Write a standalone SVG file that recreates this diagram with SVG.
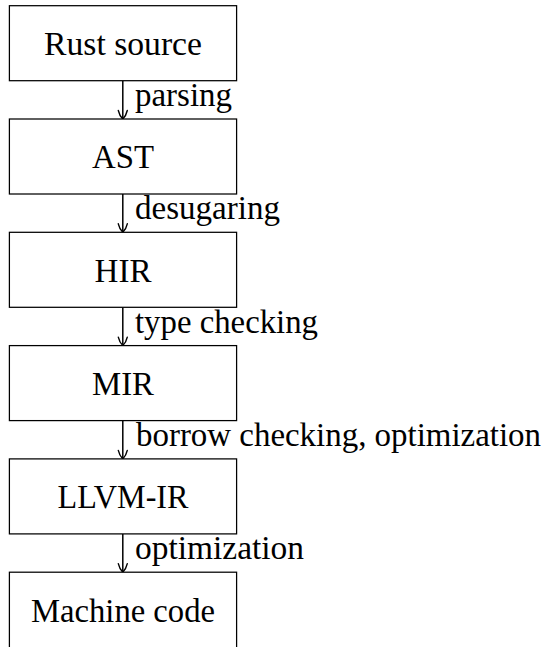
<svg xmlns="http://www.w3.org/2000/svg" width="548" height="647" viewBox="0 0 548 647">
<style>
.box{fill:#fff;stroke:#000;stroke-width:1.25}
.t{font-family:"Liberation Serif","Times New Roman",serif;font-size:33px;fill:#000}
.c{text-anchor:middle}
.e{stroke:#000;stroke-width:1.5;fill:none}
.h{stroke:#000;stroke-width:1.4;fill:none;stroke-linecap:round}
</style>
<rect width="548" height="647" fill="#fff"/>
<g id="connectors">
<g><line class="e" x1="122.8" y1="80.7" x2="122.8" y2="118"/><path class="h" d="M118.3,110.5 C119.3,115 121.8,118 122.8,119 C123.8,118 126.3,115 127.3,110.5"/><text class="t" x="135" y="106" textLength="97" lengthAdjust="spacingAndGlyphs">parsing</text></g>
<g><line class="e" x1="122.8" y1="194" x2="122.8" y2="231.3"/><path class="h" d="M118.3,223.8 C119.3,228.3 121.8,231.3 122.8,232.3 C123.8,231.3 126.3,228.3 127.3,223.8"/><text class="t" x="135" y="219.3" textLength="145" lengthAdjust="spacingAndGlyphs">desugaring</text></g>
<g><line class="e" x1="122.8" y1="307.3" x2="122.8" y2="344.6"/><path class="h" d="M118.3,337.1 C119.3,341.6 121.8,344.6 122.8,345.6 C123.8,344.6 126.3,341.6 127.3,337.1"/><text class="t" x="135" y="332.6" textLength="183" lengthAdjust="spacingAndGlyphs">type checking</text></g>
<g><line class="e" x1="122.8" y1="420.6" x2="122.8" y2="457.9"/><path class="h" d="M118.3,450.4 C119.3,454.9 121.8,457.9 122.8,458.9 C123.8,457.9 126.3,454.9 127.3,450.4"/><text class="t" x="136" y="445.9" textLength="405" lengthAdjust="spacingAndGlyphs">borrow checking, optimization</text></g>
<g><line class="e" x1="122.8" y1="533.9" x2="122.8" y2="571.2"/><path class="h" d="M118.3,563.7 C119.3,568.2 121.8,571.2 122.8,572.2 C123.8,571.2 126.3,568.2 127.3,563.7"/><text class="t" x="135" y="559.2" textLength="169" lengthAdjust="spacingAndGlyphs">optimization</text></g>
</g>
<g id="n1"><rect class="box" x="9.4" y="5.7" width="227.2" height="75"/><text class="t c" x="123" y="55" textLength="158" lengthAdjust="spacingAndGlyphs">Rust source</text></g>
<g id="n2"><rect class="box" x="9.4" y="119" width="227.2" height="75"/><text class="t c" x="123" y="168.3" textLength="62" lengthAdjust="spacingAndGlyphs">AST</text></g>
<g id="n3"><rect class="box" x="9.4" y="232.3" width="227.2" height="75"/><text class="t c" x="123" y="281.6" textLength="57" lengthAdjust="spacingAndGlyphs">HIR</text></g>
<g id="n4"><rect class="box" x="9.4" y="345.6" width="227.2" height="75"/><text class="t c" x="123" y="394.9" textLength="62" lengthAdjust="spacingAndGlyphs">MIR</text></g>
<g id="n5"><rect class="box" x="9.4" y="458.9" width="227.2" height="75"/><text class="t c" x="123" y="508.2" textLength="131" lengthAdjust="spacingAndGlyphs">LLVM-IR</text></g>
<g id="n6"><rect class="box" x="9.4" y="572.2" width="227.2" height="80"/><text class="t c" x="123" y="621.7" textLength="184" lengthAdjust="spacingAndGlyphs">Machine code</text></g>
</svg>
